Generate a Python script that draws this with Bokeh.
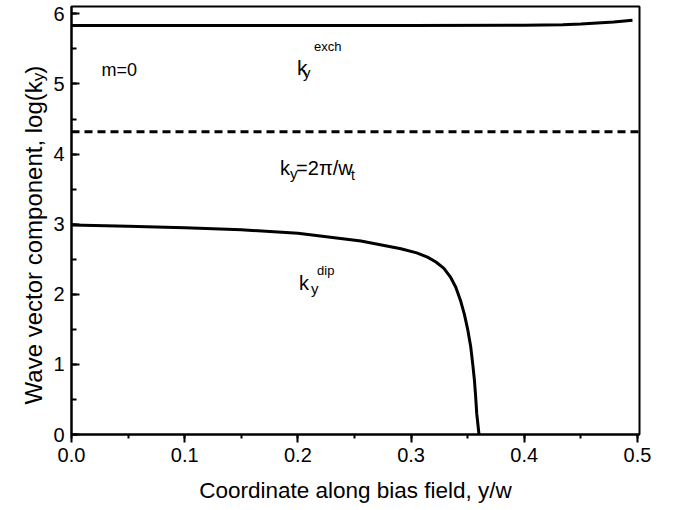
import math
from bokeh.plotting import figure
from bokeh.layouts import row
from bokeh.models import Range1d, SingleIntervalTicker, NumeralTickFormatter, Label
from bokeh.core.properties import value
from bokeh.embed import file_html
from bokeh.resources import INLINE

# ---- data ----
x_exch = [0.0, 0.1, 0.2, 0.3, 0.4, 0.434, 0.45, 0.479, 0.4956]
y_exch = [5.835, 5.835, 5.835, 5.835, 5.838, 5.845, 5.855, 5.885, 5.91]

x_dip = [0.0, 0.05, 0.1, 0.15, 0.2, 0.2557, 0.291, 0.305, 0.3145, 0.322, 0.329,
         0.335, 0.3395, 0.3435, 0.347, 0.350, 0.3527, 0.3545, 0.356, 0.357, 0.358, 0.360]
y_dip = [2.99, 2.97, 2.95, 2.92, 2.87, 2.76, 2.65, 2.59, 2.53, 2.46, 2.37,
         2.24, 2.10, 1.92, 1.72, 1.50, 1.25, 1.00, 0.77, 0.55, 0.30, 0.0]

x_thr = [0.0, 0.5018]
y_thr = [4.32, 4.32]

x_ticks_interval = 0.1
y_ticks_interval = 1

x_title = "Coordinate along bias field, y/w"
y_title_main = "Wave vector component, log(k"
y_title_sub = "y"
y_title_end = ")"

FONT = "Liberation Sans"
H = 510
LEFT_W = 50

# ---- narrow panel holding the rotated y-axis title ----
t = figure(width=LEFT_W, height=H, output_backend="svg", toolbar_location=None,
           x_range=Range1d(0, LEFT_W), y_range=Range1d(H, 0),
           min_border=0, min_border_left=0, min_border_right=0,
           min_border_top=0, min_border_bottom=0)
t.axis.visible = False
t.grid.visible = False
t.outline_line_color = None
t.background_fill_color = "white"
t.border_fill_color = "white"

t.text(x=[33], y=[89], text=[y_title_main], angle=math.pi / 2,
       text_font=value(FONT), text_font_size="24px", text_align="right",
       text_baseline="alphabetic", text_color="black")
t.text(x=[38], y=[89], text=[y_title_sub], angle=math.pi / 2,
       text_font=value(FONT), text_font_size="17px", text_align="left",
       text_baseline="alphabetic", text_color="black")
t.text(x=[33], y=[80], text=[y_title_end], angle=math.pi / 2,
       text_font=value(FONT), text_font_size="24px", text_align="left",
       text_baseline="alphabetic", text_color="black")

# ---- main plot ----
p = figure(width=677 - LEFT_W, height=H, output_backend="svg", toolbar_location=None,
           x_range=Range1d(0, 0.5018), y_range=Range1d(0, 6.105),
           min_border_left=70 - LEFT_W, min_border_right=38, min_border_top=6,
           min_border_bottom=76)
p.background_fill_color = "white"
p.border_fill_color = "white"
p.grid.visible = False
p.outline_line_color = "black"
p.outline_line_width = 2

p.xaxis.ticker = SingleIntervalTicker(interval=x_ticks_interval, num_minor_ticks=2)
p.yaxis.ticker = SingleIntervalTicker(interval=y_ticks_interval, num_minor_ticks=2)
p.xaxis.formatter = NumeralTickFormatter(format="0.0")
p.yaxis.formatter = NumeralTickFormatter(format="0")

for ax in (p.xaxis, p.yaxis):
    ax.axis_line_width = 2
    ax.axis_line_color = "black"
    ax.major_tick_line_width = 2
    ax.minor_tick_line_width = 2
    ax.major_tick_line_color = "black"
    ax.minor_tick_line_color = "black"
    ax.major_label_text_font = FONT
    ax.major_label_text_font_size = "20px"
    ax.major_label_text_color = "black"

p.xaxis.major_tick_out = 8
p.xaxis.major_tick_in = 0
p.xaxis.minor_tick_out = 4
p.xaxis.minor_tick_in = 0
p.xaxis.major_label_standoff = 5
p.xaxis.axis_label = x_title
p.xaxis.axis_label_text_font = FONT
p.xaxis.axis_label_text_font_size = "22.5px"
p.xaxis.axis_label_text_font_style = "normal"
p.xaxis.axis_label_text_color = "black"
p.xaxis.axis_label_standoff = 13

p.yaxis.major_tick_out = 0
p.yaxis.major_tick_in = 8
p.yaxis.minor_tick_out = 0
p.yaxis.minor_tick_in = 5
p.yaxis.major_label_standoff = 7

p.line(x_exch, y_exch, line_color="black", line_width=3)
p.line(x_dip, y_dip, line_color="black", line_width=3)
p.line(x_thr, y_thr, line_color="black", line_width=3, line_dash="8 5")

def lab(x, y, s, size, align="left"):
    p.add_layout(Label(x=x, y=y, text=s, text_font=FONT, text_font_size=size,
                       text_align=align, text_baseline="alphabetic",
                       text_color="black"))

# in-plot annotations
lab(0.0265, 5.20, "m=0", "18px")

lab(0.1993, 5.229, "k", "21px")
lab(0.2046, 5.157, "y", "15px")
lab(0.2143, 5.529, "exch", "13px")

lab(0.1843, 3.80, "k", "20px")
lab(0.1931, 3.729, "y", "15px")
lab(0.1984, 3.80, "=2π/w", "20px")
lab(0.2469, 3.70, "t", "14px")

lab(0.2010, 2.157, "k", "20px")
lab(0.2116, 2.086, "y", "15px")
lab(0.2169, 2.343, "dip", "13px")

layout = row(t, p, spacing=0)
open("out.html", "w").write(file_html(layout, INLINE))
